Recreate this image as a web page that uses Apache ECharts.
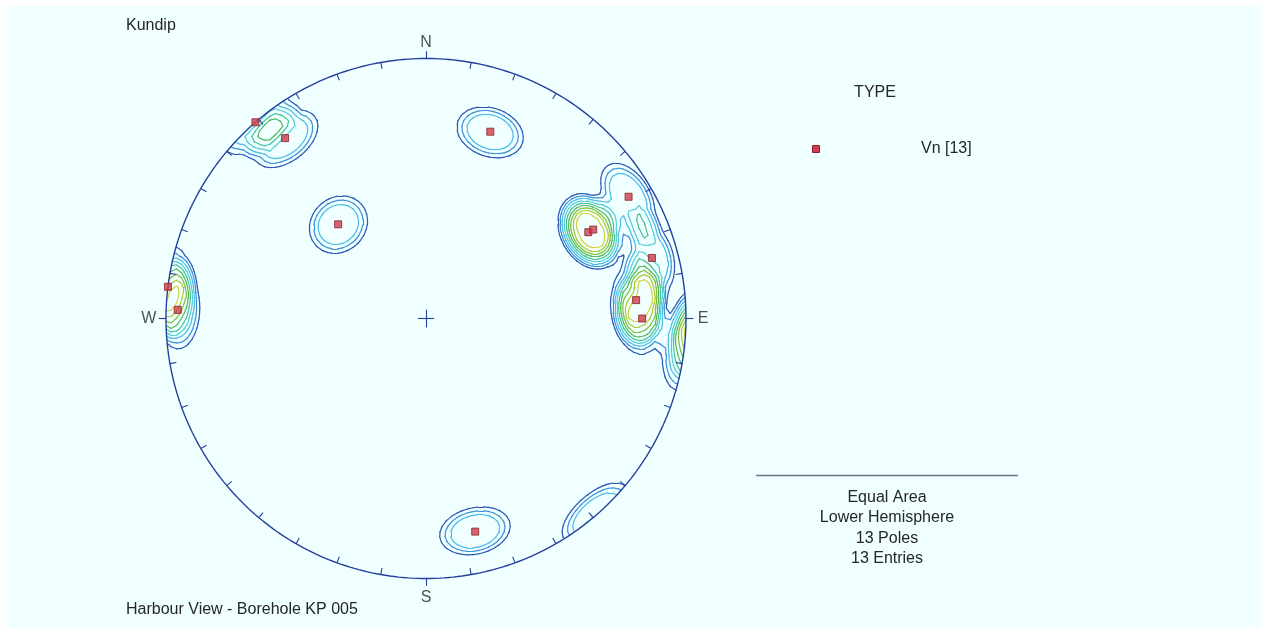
<!DOCTYPE html>
<html>
<head>
<meta charset="utf-8">
<script src="https://cdn.jsdelivr.net/npm/echarts@6/dist/echarts.min.js"></script>
<style>
  html, body { margin: 0; padding: 0; background: #ffffff; }
  #chart { width: 1267px; height: 628px; }
</style>
</head>
<body>
<div id="chart"></div>
<script>
// Pole orientations, degrees (trend measured clockwise from north, plunge down)
const poleTrend  = [319, 322, 19, 317, 62, 62, 59, 75, 85, 90, 277, 272, 167];
const polePlunge = [0, 13, 25, 49, 30, 28, 10, 11, 20, 18, 0, 5, 17];

const setName = 'Vn';
const legendTitle = 'TYPE';
const plotTitle = 'Kundip';
const plotSubtitle = 'Harbour View - Borehole KP 005';
const compassLabels = ['N', 'E', 'S', 'W'];
const compassAzimuths = [0, 90, 180, 270];

// Density contour levels (% of poles per counting area)
const contourLevels = [3.6, 5.0, 6.4, 7.8, 9.2, 10.6, 12.0, 13.4, 14.8];
const contourColors = ['#2f58b6', '#3f92d8', '#4cbde8', '#56cfd6', '#4cc29a',
                       '#58b85c', '#7fc040', '#b0c83a', '#d6d242'];

const D = Math.PI / 180;
const FONT = '"Liberation Sans", Arial, sans-serif';
const TEXT = '#262626';
const RIM = '#23409e';

// Equal-area, lower-hemisphere projection (unit primitive circle)
function project(trend, plunge) {
  const a = (90 - plunge) * D;
  const r = Math.SQRT2 * Math.sin(a / 2);
  return [r * Math.sin(trend * D), r * Math.cos(trend * D)];
}

// Counting kernel: flat core, linear taper to zero (angles in degrees)
function kernel(deg) {
  const A = 5, B = 12.5;
  if (deg <= A) return 1;
  if (deg >= B) return 0;
  return (B - deg) / (B - A);
}

function clipToCircle(p, q) {
  const rp = Math.hypot(p[0], p[1]), rq = Math.hypot(q[0], q[1]);
  if (rp > 1 && rq > 1) return null;
  if (rp <= 1 && rq <= 1) return [p, q];
  const a = rp <= 1 ? p : q, b = rp <= 1 ? q : p;
  const dx = b[0] - a[0], dy = b[1] - a[1];
  const A = dx * dx + dy * dy, B = 2 * (a[0] * dx + a[1] * dy), C = a[0] * a[0] + a[1] * a[1] - 1;
  const t = (-B + Math.sqrt(Math.max(0, B * B - 4 * A * C))) / (2 * A);
  return [a, [a[0] + t * dx, a[1] + t * dy]];
}

// Grid the axial density over the net, then trace each level with marching squares
function buildContours() {
  const N = 104, lo = -1.04, hi = 1.04, st = (hi - lo) / N, W = N + 1;
  const pv = poleTrend.map((t, i) => {
    const tr = t * D, pl = polePlunge[i] * D;
    return [Math.cos(pl) * Math.sin(tr), Math.cos(pl) * Math.cos(tr), Math.sin(pl)];
  });
  const w = 100 / poleTrend.length;
  const vals = new Float64Array(W * W);
  for (let j = 0; j < W; j++) {
    for (let i = 0; i < W; i++) {
      const x = lo + i * st, y = lo + j * st, r = Math.hypot(x, y);
      const a = 2 * Math.asin(Math.min(r / Math.SQRT2, 1)), az = Math.atan2(x, y);
      const g = [Math.sin(a) * Math.sin(az), Math.sin(a) * Math.cos(az), Math.cos(a)];
      let s = 0;
      for (const v of pv) {
        const d = Math.abs(g[0] * v[0] + g[1] * v[1] + g[2] * v[2]);
        s += kernel(Math.acos(Math.min(1, d)) / D);
      }
      vals[j * W + i] = s * w;
    }
  }
  const V = (i, j) => vals[j * W + i];
  const table = {
    1: [[3, 0]], 2: [[0, 1]], 3: [[3, 1]], 4: [[1, 2]], 6: [[0, 2]], 7: [[3, 2]],
    8: [[2, 3]], 9: [[0, 2]], 11: [[1, 2]], 12: [[1, 3]], 13: [[0, 1]], 14: [[0, 3]]
  };
  return contourLevels.map(L => {
    const segs = [];
    for (let j = 0; j < N; j++) {
      for (let i = 0; i < N; i++) {
        const a = V(i, j), b = V(i + 1, j), c = V(i + 1, j + 1), d = V(i, j + 1);
        const idx = (a >= L ? 1 : 0) | (b >= L ? 2 : 0) | (c >= L ? 4 : 0) | (d >= L ? 8 : 0);
        if (idx === 0 || idx === 15) continue;
        const x0 = lo + i * st, y0 = lo + j * st, x1 = x0 + st, y1 = y0 + st;
        const lerp = (xa, ya, va, xb, yb, vb) => {
          const t = (L - va) / (vb - va);
          return [xa + t * (xb - xa), ya + t * (yb - ya)];
        };
        const ep = e => e === 0 ? lerp(x0, y0, a, x1, y0, b)
                   : e === 1 ? lerp(x1, y0, b, x1, y1, c)
                   : e === 2 ? lerp(x1, y1, c, x0, y1, d)
                   : lerp(x0, y1, d, x0, y0, a);
        let pairs = table[idx];
        if (idx === 5 || idx === 10) {
          const mid = (a + b + c + d) / 4 >= L;
          if (idx === 5) pairs = mid ? [[0, 1], [2, 3]] : [[3, 0], [1, 2]];
          else pairs = mid ? [[3, 0], [1, 2]] : [[0, 1], [2, 3]];
        }
        for (const [e1, e2] of pairs) {
          const s = clipToCircle(ep(e1), ep(e2));
          if (s) segs.push({ coords: s });
        }
      }
    }
    return segs;
  });
}

const contourSegs = buildContours();

// Primitive circle, tick marks every 10 degrees and centre cross
const rimPts = [];
for (let k = 0; k <= 360; k++) rimPts.push([Math.sin(k * D), Math.cos(k * D)]);
const tickSegs = [];
for (let az = 0; az < 360; az += 10) {
  const s = Math.sin(az * D), c = Math.cos(az * D);
  const r2 = az % 90 === 0 ? 1.028 : 0.975;
  tickSegs.push({ coords: [[s, c], [s * r2, c * r2]] });
}
const crossSegs = [
  { coords: [[-0.031, 0], [0.031, 0]] },
  { coords: [[0, -0.034], [0, 0.034]] }
];

const polePts = poleTrend.map((t, i) => project(t, polePlunge[i]));
const compassPts = compassAzimuths.map((az, i) => ({
  value: [1.066 * Math.sin(az * D), (az === 180 ? 1.075 : 1.06) * Math.cos(az * D)],
  label: { formatter: compassLabels[i] }
}));

const series = [];
contourSegs.forEach((segs, k) => {
  series.push({
    type: 'lines', coordinateSystem: 'cartesian2d', polyline: false,
    data: segs, silent: true, z: 3, progressive: 0, large: false,
    lineStyle: { color: contourColors[k], width: 1.2, opacity: 1, cap: 'round', curveness: 0 }
  });
});
series.push({
  type: 'line', data: rimPts, showSymbol: false, silent: true, z: 4,
  lineStyle: { color: RIM, width: 1.4 }
});
series.push({
  type: 'lines', coordinateSystem: 'cartesian2d', data: tickSegs.concat(crossSegs),
  silent: true, z: 4, progressive: 0,
  lineStyle: { color: RIM, width: 1.1, opacity: 1, curveness: 0 }
});
series.push({
  type: 'scatter', data: polePts, symbol: 'rect', symbolSize: 7, z: 6, silent: true,
  itemStyle: { color: '#cf3f4d', borderColor: '#8a1f2c', borderWidth: 1 }
});
series.push({
  type: 'scatter', data: compassPts, symbolSize: 1, z: 6, silent: true,
  itemStyle: { color: 'rgba(0,0,0,0)' },
  label: { show: true, position: 'inside', color: TEXT, fontFamily: FONT, fontSize: 16 }
});

const summary = ['Equal Area', 'Lower Hemisphere',
  poleTrend.length + ' Poles', poleTrend.length + ' Entries'];

const chart = echarts.init(document.getElementById('chart'), null, { renderer: 'canvas' });
chart.setOption({
  animation: false,
  backgroundColor: '#ffffff',
  grid: { left: 140, top: 32.5, width: 572, height: 572, containLabel: false },
  xAxis: { type: 'value', min: -1.1, max: 1.1, show: false },
  yAxis: { type: 'value', min: -1.1, max: 1.1, show: false },
  series: series,
  graphic: {
    elements: [
      { type: 'rect', z: -100, silent: true, shape: { x: 7, y: 6, width: 1254, height: 622 },
        style: { fill: '#f0ffff' } },
      { type: 'text', left: 126, top: 18, silent: true,
        style: { text: plotTitle, font: '16px ' + FONT, fill: TEXT } },
      { type: 'text', left: 126, top: 602, silent: true,
        style: { text: plotSubtitle, font: '16px ' + FONT, fill: TEXT } },
      { type: 'text', x: 875, y: 93, silent: true,
        style: { text: legendTitle, font: '16px ' + FONT, fill: TEXT, align: 'center', verticalAlign: 'middle' } },
      { type: 'rect', silent: true, shape: { x: 812.5, y: 145.5, width: 7, height: 7 },
        style: { fill: '#cf3f4d', stroke: '#8a1f2c', lineWidth: 1 } },
      { type: 'text', x: 921, y: 149, silent: true,
        style: { text: setName + ' [' + poleTrend.length + ']', font: '16px ' + FONT, fill: TEXT, verticalAlign: 'middle' } },
      { type: 'line', silent: true, shape: { x1: 756, y1: 475.5, x2: 1018, y2: 475.5 },
        style: { stroke: '#6d7486', lineWidth: 1.6 } },
      ...summary.map((s, i) => ({
        type: 'text', x: 887, y: [497.5, 518, 538.5, 559][i], silent: true,
        style: { text: s, font: '16px ' + FONT, fill: TEXT, align: 'center', verticalAlign: 'middle' }
      }))
    ]
  }
});
</script>
</body>
</html>
